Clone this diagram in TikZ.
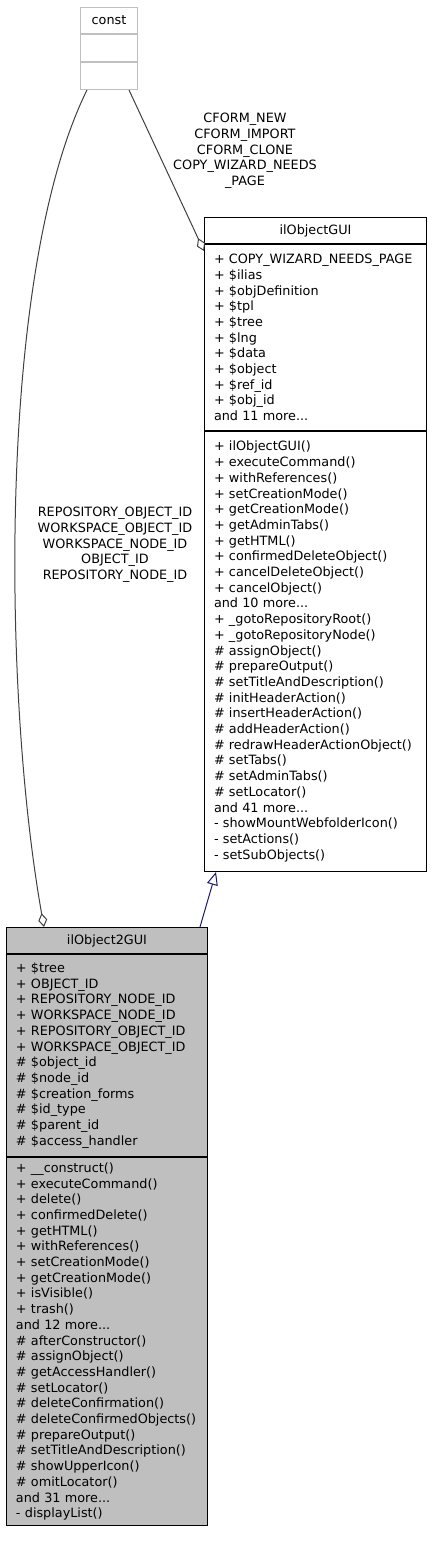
\documentclass[tikz,border=0pt]{standalone}
\usepackage{fontspec}
\setmainfont{DejaVu Sans}
\usepackage{xcolor}
\usepackage{tikz}
\usetikzlibrary{arrows.meta,positioning}
\definecolor{umlgray}{HTML}{BFBFBF}
\definecolor{edgegray}{HTML}{404040}
\definecolor{inhblue}{HTML}{191970}
\newcommand{\umlfont}{\fontsize{12.8}{15.7}\selectfont}
\tikzset{
  uhead/.style={draw, line width=1pt, align=center, minimum height=26pt, inner sep=0pt, fill=white, font=\umlfont},
  ubody/.style={draw, line width=1pt, align=left, inner xsep=9.5pt, inner ysep=0pt, fill=white, font=\umlfont},
  chead/.style={draw=umlgray, line width=1pt, align=center, minimum width=57pt, minimum height=26pt, inner sep=0pt, fill=white, font=\umlfont},
  cpart/.style={draw=umlgray, line width=1pt, minimum width=57pt, minimum height=27pt, inner sep=0pt, fill=white},
  elabel/.style={align=center, inner sep=0pt, font=\umlfont},
  aggr/.style={-{Diamond[open, length=14pt, width=9pt]}, draw=edgegray, line width=1pt},
  inherit/.style={-{Triangle[open, length=13pt, width=11pt]}, draw=inhblue, line width=1pt}
}

\begin{document}
\begin{tikzpicture}[x=1pt,y=-1pt]
\useasboundingbox (0,0) rectangle (432,1541);

\node[chead, anchor=north west] (ctitle) at (80,7) {const};
\node[cpart, below=0pt of ctitle] (cattr) {};
\node[cpart, below=0pt of cattr] (cmeth) {};

\node[uhead, minimum width=222pt, anchor=north west] (gtitle) at (204,217) {ilObjectGUI};
\node[ubody, text width=203pt, minimum height=186pt, below=0pt of gtitle] (gattr) {%
+ COPY\_WIZARD\_NEEDS\_PAGE\\
+ \$ilias\\
+ \$objDefinition\\
+ \$tpl\\
+ \$tree\\
+ \$lng\\
+ \$data\\
+ \$object\\
+ \$ref\_id\\
+ \$obj\_id\\
and 11 more...};
\node[ubody, text width=203pt, minimum height=440pt, below=0pt of gattr] (gmeth) {%
+ ilObjectGUI()\\
+ executeCommand()\\
+ withReferences()\\
+ setCreationMode()\\
+ getCreationMode()\\
+ getAdminTabs()\\
+ getHTML()\\
+ confirmedDeleteObject()\\
+ cancelDeleteObject()\\
+ cancelObject()\\
and 10 more...\\
+ \_gotoRepositoryRoot()\\
+ \_gotoRepositoryNode()\\
\# assignObject()\\
\# prepareOutput()\\
\# setTitleAndDescription()\\
\# initHeaderAction()\\
\# insertHeaderAction()\\
\# addHeaderAction()\\
\# redrawHeaderActionObject()\\
\# setTabs()\\
\# setAdminTabs()\\
\# setLocator()\\
and 41 more...\\
- showMountWebfolderIcon()\\
- setActions()\\
- setSubObjects()};

\node[uhead, fill=umlgray, minimum width=201pt, anchor=north west] (otitle) at (6,927) {ilObject2GUI};
\node[ubody, fill=umlgray, text width=182pt, minimum height=202pt, below=0pt of otitle] (oattr) {%
+ \$tree\\
+ OBJECT\_ID\\
+ REPOSITORY\_NODE\_ID\\
+ WORKSPACE\_NODE\_ID\\
+ REPOSITORY\_OBJECT\_ID\\
+ WORKSPACE\_OBJECT\_ID\\
\# \$object\_id\\
\# \$node\_id\\
\# \$creation\_forms\\
\# \$id\_type\\
\# \$parent\_id\\
\# \$access\_handler};
\node[ubody, fill=umlgray, text width=182pt, minimum height=368pt, below=0pt of oattr] (ometh) {%
+ \_\_construct()\\
+ executeCommand()\\
+ delete()\\
+ confirmedDelete()\\
+ getHTML()\\
+ withReferences()\\
+ setCreationMode()\\
+ getCreationMode()\\
+ isVisible()\\
+ trash()\\
and 12 more...\\
\# afterConstructor()\\
\# assignObject()\\
\# getAccessHandler()\\
\# setLocator()\\
\# deleteConfirmation()\\
\# deleteConfirmedObjects()\\
\# prepareOutput()\\
\# setTitleAndDescription()\\
\# showUpperIcon()\\
\# omitLocator()\\
and 31 more...\\
- displayList()};

\node[elabel] (lform) at (245,151) {CFORM\_NEW\\CFORM\_IMPORT\\CFORM\_CLONE\\COPY\_WIZARD\_NEEDS\\\_PAGE};
\node[elabel] (lids) at (115,545) {REPOSITORY\_OBJECT\_ID\\WORKSPACE\_OBJECT\_ID\\WORKSPACE\_NODE\_ID\\OBJECT\_ID\\REPOSITORY\_NODE\_ID};

\draw[aggr] ([xshift=-9pt]cmeth.south east) -- ([yshift=-7pt]gattr.north west);
\draw[aggr] ([xshift=7pt]cmeth.south west) .. controls (-2,270) and (2,690) .. ([xshift=38pt]otitle.north west);
\draw[inherit] ([xshift=-8pt]otitle.north east) -- ([xshift=12pt]gmeth.south west);
\end{tikzpicture}
\end{document}
